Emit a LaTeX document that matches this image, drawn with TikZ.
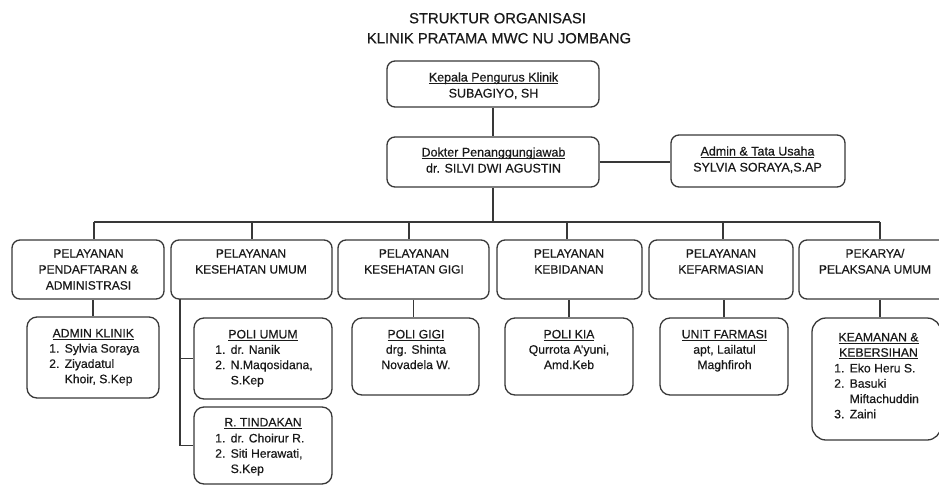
\documentclass[tikz,border=0pt]{standalone}
\usepackage{fontspec}
\setmainfont[FakeBold=0.45]{Liberation Sans}
\definecolor{linec}{HTML}{383838}
\definecolor{txt}{HTML}{1A1A1A}
\newcommand\myul[1]{\setbox0\hbox{#1}\rlap{\rule[-1.8pt]{\wd0}{0.7pt}}\box0}
\newcommand\fntT{\fontsize{14.8}{20}\selectfont}
\newcommand\fntA{\fontsize{12.5}{16}\selectfont}
\newcommand\fntB{\fontsize{12}{16}\selectfont}
\newcommand\fntC{\fontsize{12.2}{15.3}\selectfont}
\newcommand\inum[1]{\makebox[15.5pt][l]{#1}}
\newcommand\cbox[1]{\begin{tabular}[t]{@{}c@{}}#1\end{tabular}}
\newcommand\lbox[1]{\begin{tabular}[t]{@{}l@{}}#1\end{tabular}}
\begin{document}
\begin{tikzpicture}[x=1pt,y=-1pt,
  box/.style={draw=linec,line width=1.3pt,rounded corners=8pt,inner sep=0pt,fill=white},
  lbox3/.style={box,rounded corners=10pt},
  lbl/.style={text=txt,inner sep=0pt,anchor=base},
  lst/.style={text=txt,inner sep=0pt,anchor=base west},
  conn/.style={draw=linec,line width=1.3pt}]
\fill[white] (0,0) rectangle (939,485);
\useasboundingbox (0,0) rectangle (939,485);

% titles
\node[lbl,font=\fntT] (t1) at (497.5,23.3) {STRUKTUR ORGANISASI};
\node[lbl,font=\fntT] (t2) at (499,43.3) {KLINIK PRATAMA MWC NU JOMBANG};

% top boxes
\node[box,minimum width=212pt,minimum height=46pt] (kepala) at (493,84) {};
\node[box,minimum width=212pt,minimum height=50pt] (dokter) at (493,162) {};
\node[box,minimum width=174pt,minimum height=52pt] (admin) at (758,161) {};

% level 2
\node[box,minimum width=152pt,minimum height=59pt] (b1) at (88,269.5) {};
\node[box,minimum width=161pt,minimum height=59pt] (b2) at (251.5,269.5) {};
\node[box,minimum width=151pt,minimum height=59pt] (b3) at (413.5,269.5) {};
\node[box,minimum width=145pt,minimum height=59pt] (b4) at (569.5,269.5) {};
\node[box,minimum width=144pt,minimum height=59pt] (b5) at (721,269.5) {};
\node[box,minimum width=152pt,minimum height=59pt] (b6) at (875,269.5) {};

% level 3
\node[lbox3,minimum width=132pt,minimum height=81pt] (adm) at (93,357.5) {};
\node[lbox3,minimum width=138pt,minimum height=81pt] (pu) at (263,358.5) {};
\node[lbox3,minimum width=138pt,minimum height=77pt] (rt) at (263,445.5) {};
\node[lbox3,minimum width=127pt,minimum height=77pt] (pg) at (415.5,356.5) {};
\node[lbox3,minimum width=128pt,minimum height=77pt] (kia) at (569,356.5) {};
\node[lbox3,minimum width=128pt,minimum height=77pt] (uf) at (724,356.5) {};
\node[box,rounded corners=14pt,minimum width=129pt,minimum height=122pt] (kb) at (876.5,379) {};

% connectors
\coordinate (d1) at (94,222);
\coordinate (d2) at (252,222);
\coordinate (d3) at (409,222);
\coordinate (d4) at (567,222);
\coordinate (d5) at (723,222);
\coordinate (d6) at (880,222);
\coordinate (k2) at (180,299);
\draw[conn] (kepala.south) -- (dokter.north);
\draw[conn] (dokter.east) -- (dokter.east -| admin.west);
\draw[conn] (dokter.south) -- (dokter.south |- d1);
\draw[conn] (d1) -- (d6);
\foreach \d/\b in {d1/b1,d2/b2,d3/b3,d4/b4,d5/b5,d6/b6}
  \draw[conn] (\d) -- (\d |- \b.north);
\draw[conn] (adm.north) -- (adm.north |- b1.south);
\draw[conn] (b3.south) -- (b3.south |- pg.north);
\draw[conn] (kia.north) -- (kia.north |- b4.south);
\draw[conn] (uf.north) -- (uf.north |- b5.south);
\draw[conn] (d6 |- b6.south) -- (d6 |- kb.north);
\draw[conn] (k2) -- (k2 |- rt.west) -- (rt.west);
\draw[conn] (k2 |- pu.west) -- (pu.west);

% top texts
\node[lbl,font=\fntA] (kepalat) at (493.5,81.5) {\cbox{\myul{Kepala Pengurus Klinik}\\SUBAGIYO, SH}};
\node[lbl,font=\fntA] (doktert) at (493.5,156.5) {\cbox{\myul{Dokter Penanggungjawab}\\dr. SILVI DWI AGUSTIN}};
\node[lbl,font=\fntA] (admint) at (757.5,155.5) {\cbox{\myul{Admin \& Tata Usaha}\\SYLVIA SORAYA,S.AP}};

% level 2 texts
\node[lbl,font=\fntB] (b1t) at (88.5,257.5) {\cbox{PELAYANAN\\PENDAFTARAN \&\\ADMINISTRASI}};
\node[lbl,font=\fntB] (b2t) at (251,257.5) {\cbox{PELAYANAN\\KESEHATAN UMUM}};
\node[lbl,font=\fntB] (b3t) at (414,257.5) {\cbox{PELAYANAN\\KESEHATAN GIGI}};
\node[lbl,font=\fntB] (b4t) at (569,257.5) {\cbox{PELAYANAN\\KEBIDANAN}};
\node[lbl,font=\fntB] (b5t) at (721,257.5) {\cbox{PELAYANAN\\KEFARMASIAN}};
\node[lbl,font=\fntB] (b6t) at (875,257.5) {\cbox{PEKARYA/\\PELAKSANA UMUM}};

% level 3 texts
\node[lbl,font=\fntC] (admt) at (93.3,337.4) {\myul{ADMIN KLINIK}};
\node[lst,font=\fntC] (adml) at (49,352.6) {\lbox{\inum{1.}Sylvia Soraya\\\inum{2.}Ziyadatul\\\inum{}Khoir, S.Kep}};
\node[lbl,font=\fntC] (put) at (263,338.4) {\myul{POLI UMUM}};
\node[lst,font=\fntC] (pul) at (215,353.8) {\lbox{\inum{1.}dr. Nanik\\\inum{2.}N.Maqosidana,\\\inum{}S.Kep}};
\node[lbl,font=\fntC] (rtt) at (263,426.4) {\myul{R. TINDAKAN}};
\node[lst,font=\fntC] (rtl) at (215,442.4) {\lbox{\inum{1.}dr. Choirur R.\\\inum{2.}Siti Herawati,\\\inum{}S.Kep}};
\node[lbl,font=\fntC] (pgt) at (416,338.4) {\cbox{\myul{POLI GIGI}\\drg. Shinta\\Novadela W.}};
\node[lbl,font=\fntC] (kiat) at (569,338.4) {\cbox{\myul{POLI KIA}\\Qurrota A’yuni,\\Amd.Keb}};
\node[lbl,font=\fntC] (uft) at (724.5,338.4) {\cbox{\myul{UNIT FARMASI}\\apt, Lailatul\\Maghfiroh}};
\node[lbl,font=\fntC] (kbt) at (878.5,341.4) {\cbox{\myul{KEAMANAN \&}\\\myul{KEBERSIHAN}}};
\node[lst,font=\fntC] (kbl) at (834,372.4) {\lbox{\inum{1.}Eko Heru S.\\\inum{2.}Basuki\\\inum{}Miftachuddin\\\inum{3.}Zaini}};
\end{tikzpicture}
\end{document}
